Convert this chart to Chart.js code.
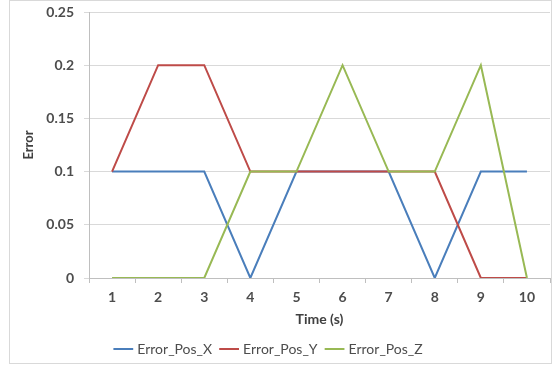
<!DOCTYPE html>
<html>
<head>
<meta charset="utf-8">
<script src="https://cdn.jsdelivr.net/npm/chart.js@4.4.1/dist/chart.umd.min.js"></script>
<style>
  html, body { margin: 0; padding: 0; background: #fff; }
  #wrap { position: absolute; left: 0; top: 0; width: 555px; height: 366px; }
  #frame { position: absolute; left: 9px; top: 0px; width: 543px; height: 364px; border: 1px solid #d9d9d9; box-sizing: border-box; pointer-events: none; }
</style>
</head>
<body>
<div id="wrap">
  <canvas id="c" width="555" height="366"></canvas>
  <div id="frame"></div>
</div>
<script>
// Time steps (s)
const timeSteps = ['1', '2', '3', '4', '5', '6', '7', '8', '9', '10'];
// Position error per axis
const errorPosX = [0.1, 0.1, 0.1, 0, 0.1, 0.1, 0.1, 0, 0.1, 0.1];
const errorPosY = [0.1, 0.2, 0.2, 0.1, 0.1, 0.1, 0.1, 0.1, 0, 0];
const errorPosZ = [0, 0, 0, 0.1, 0.1, 0.2, 0.1, 0.1, 0.2, 0];
const seriesNames = ['Error_Pos_X', 'Error_Pos_Y', 'Error_Pos_Z'];

const FONT = 'Lato, "Open Sans", sans-serif';
const TEXT = '#4d4d4d';

// Later series are painted over earlier ones (lower order = on top)
function line(label, data, color, order) {
  return {
    label, data, order,
    borderColor: color,
    backgroundColor: color,
    borderWidth: 2,
    pointRadius: 0,
    tension: 0,
    fill: false
  };
}

// Nudge the legend block a little left of the canvas centre
const legendShift = {
  id: 'legendShift',
  afterLayout(chart) {
    if (chart.legend) {
      chart.legend.left -= 16;
      chart.legend.right -= 16;
    }
  }
};

new Chart(document.getElementById('c'), {
  type: 'line',
  data: {
    labels: timeSteps,
    datasets: [
      line(seriesNames[0], errorPosX, '#4a7ebb', 2),
      line(seriesNames[1], errorPosY, '#be4b48', 1),
      line(seriesNames[2], errorPosZ, '#98b954', 0)
    ]
  },
  plugins: [legendShift],
  options: {
    responsive: false,
    animation: false,
    layout: { padding: { left: 21, right: 5, top: 12, bottom: 0 } },
    plugins: {
      legend: {
        position: 'bottom',
        labels: {
          usePointStyle: true,
          pointStyle: 'line',
          boxWidth: 16,
          padding: 10,
          color: TEXT,
          font: { family: FONT, size: 14 },
          sort: (a, b) => a.datasetIndex - b.datasetIndex
        }
      },
      tooltip: { enabled: false }
    },
    scales: {
      x: {
        offset: true,
        grid: {
          offset: true,
          drawOnChartArea: false,
          drawTicks: true,
          tickLength: 5,
          color: '#bfbfbf'
        },
        border: { color: '#bfbfbf', width: 1 },
        ticks: {
          color: TEXT,
          padding: 6,
          maxRotation: 0,
          font: { family: FONT, size: 14, weight: 'bold' }
        },
        title: {
          display: true,
          text: 'Time (s)',
          color: '#404040',
          padding: { top: 3, bottom: 4 },
          font: { family: FONT, size: 14, weight: 'bold' }
        },
        afterFit(scale) { scale.height = 54; }
      },
      y: {
        min: 0,
        max: 0.25,
        grid: {
          color: '#d9d9d9',
          drawTicks: true,
          tickLength: 5
        },
        border: { color: '#bfbfbf', width: 1 },
        ticks: {
          stepSize: 0.05,
          color: TEXT,
          padding: 10,
          font: { family: FONT, size: 14, weight: 'bold' },
          callback: (v) => Math.round(v * 100) / 100
        },
        title: {
          display: true,
          text: 'Error',
          color: '#404040',
          padding: 0,
          font: { family: FONT, size: 13, weight: 'bold' }
        },
        afterFit(scale) {
          scale.width = 68;
          scale.paddingTop = 0;
          scale.paddingBottom = 0;
        }
      }
    }
  }
});
</script>
</body>
</html>
